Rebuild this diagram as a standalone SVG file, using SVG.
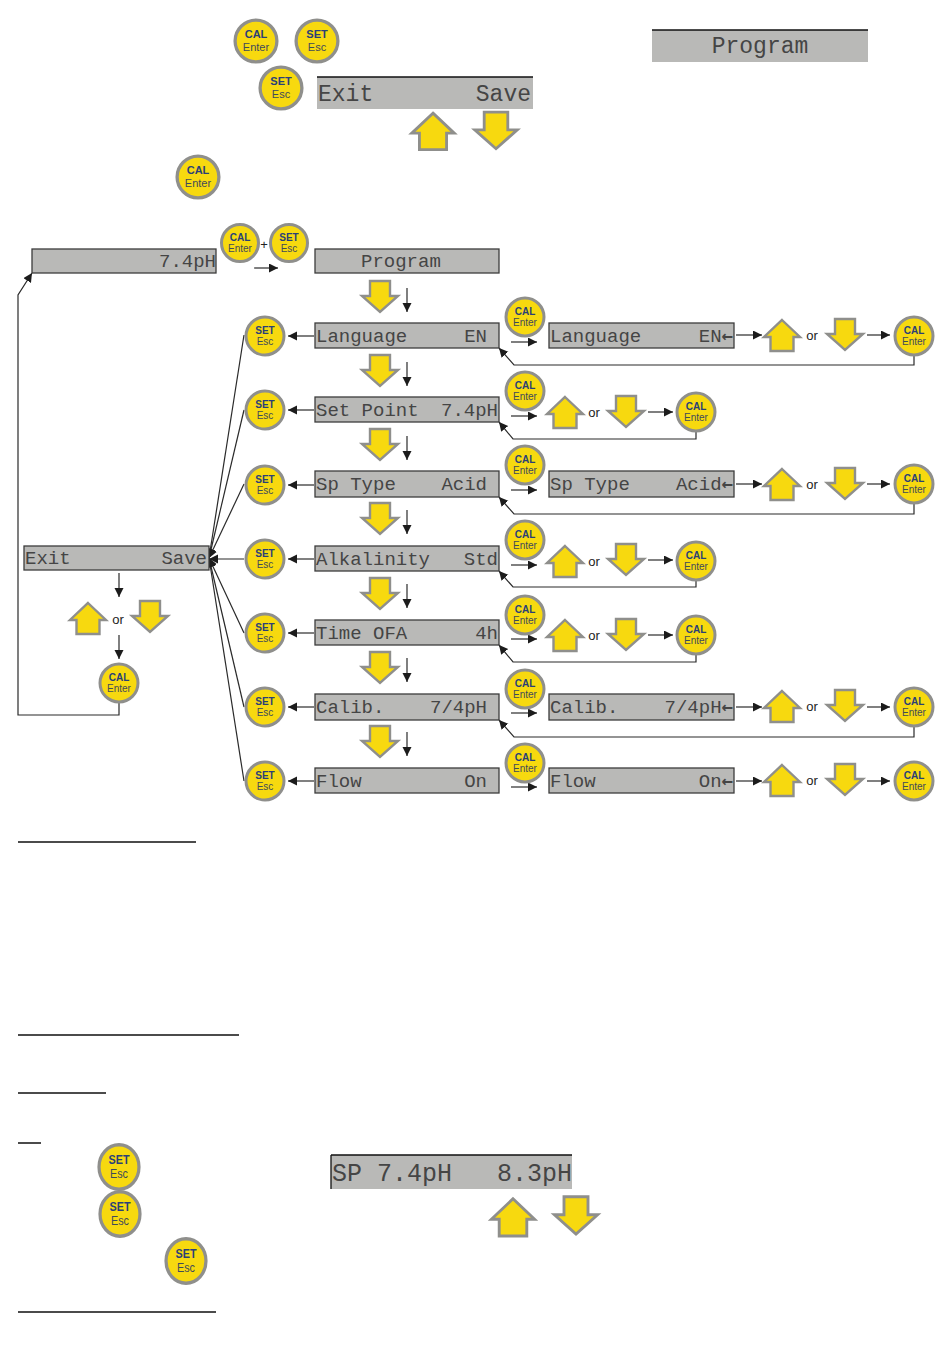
<svg xmlns="http://www.w3.org/2000/svg" xmlns:xlink="http://www.w3.org/1999/xlink" width="950" height="1369" viewBox="0 0 950 1369">
<style>
.cap{fill:#f7d90f;stroke:#8f8f8c;stroke-width:3}
.a{fill:#f7d90f;stroke:#8f8f8c;stroke-width:2.4}
.t1,.t2{font-family:"Liberation Sans",sans-serif;text-anchor:middle;font-size:10px}
.t1{font-weight:700;fill:#2a3f78}
.t2{fill:#3f4a5a}
.d{fill:#b9b9b7;stroke:#3c3c3c;stroke-width:1.3}
.dt{fill:#b9b9b7}
.l{font-family:"Liberation Mono",monospace;font-size:19px;fill:#454545}
.e{text-anchor:end}
.k{font-family:"DejaVu Sans Mono",monospace;font-weight:700}
.or{font-family:"Liberation Sans",sans-serif;font-size:13px;fill:#222;text-anchor:middle}
.c{fill:none;stroke:#2a2a2a;stroke-width:1.2}
.ar{marker-end:url(#h)}
.u{stroke:#111;stroke-width:1.3}
</style>
<defs>
<marker id="h" markerUnits="userSpaceOnUse" markerWidth="10" markerHeight="10" refX="9" refY="4.5" orient="auto"><path d="M0 0L9 4.5L0 9Z" fill="#1c1c1c"/></marker>
<polygon id="up" class="a" points="0,-16 18,1 11.500,1 11.500,15 -11.500,15 -11.500,1 -18,1"/>
<polygon id="dn" class="a" points="-10,-16 10,-16 10,-1 18,-1 0,15 -18,-1 -10,-1"/>
</defs>

<g id="connectors">
<path class="c ar" d="M254 268H278"/>
<path class="c ar" d="M407 288V312"/>
<path class="c ar" d="M407 362V386"/>
<path class="c ar" d="M407 436V460"/>
<path class="c ar" d="M407 510V534"/>
<path class="c ar" d="M407 584V608"/>
<path class="c ar" d="M407 658V682"/>
<path class="c ar" d="M407 732V756"/>
<path class="c ar" d="M314 336H288"/>
<path class="c ar" d="M314 410H288"/>
<path class="c ar" d="M314 485H288"/>
<path class="c ar" d="M314 559H288"/>
<path class="c ar" d="M314 633H288"/>
<path class="c ar" d="M314 707H288"/>
<path class="c ar" d="M314 781H288"/>
<path class="c ar" d="M244 335L209 558"/>
<path class="c ar" d="M244 410L209 558"/>
<path class="c ar" d="M244 484L209 558"/>
<path class="c ar" d="M244 559H209"/>
<path class="c ar" d="M244 633L209 558"/>
<path class="c ar" d="M244 707L209 558"/>
<path class="c ar" d="M244 781L209 558"/>
<path class="c ar" d="M119 573V597"/>
<path class="c ar" d="M119 635V659"/>
<path class="c ar" d="M119 702V715H18V295L32 273"/>
<path class="c ar" d="M511 342H537"/>
<path class="c ar" d="M736 335H762"/>
<path class="c ar" d="M867 335H890"/>
<path class="c ar" d="M914 355V365H514L499 348"/>
<path class="c ar" d="M511 416H537"/>
<path class="c ar" d="M648 412H673"/>
<path class="c ar" d="M696 431V439H513L499 422"/>
<path class="c ar" d="M511 490H537"/>
<path class="c ar" d="M736 484H762"/>
<path class="c ar" d="M867 484H890"/>
<path class="c ar" d="M914 503V514H514L499 497"/>
<path class="c ar" d="M511 565H537"/>
<path class="c ar" d="M648 560H673"/>
<path class="c ar" d="M696 580V587H513L499 571"/>
<path class="c ar" d="M511 639H537"/>
<path class="c ar" d="M648 635H673"/>
<path class="c ar" d="M696 654V662H513L499 645"/>
<path class="c ar" d="M511 713H537"/>
<path class="c ar" d="M736 707H762"/>
<path class="c ar" d="M867 707H890"/>
<path class="c ar" d="M914 726V737H514L499 720"/>
<path class="c ar" d="M511 787H537"/>
<path class="c ar" d="M736 781H762"/>
<path class="c ar" d="M867 781H890"/>
</g>

<g id="top">
<rect class="dt" x="652" y="30" width="216" height="32"/><path class="u" d="M652 30H868"/>
<text class="l" x="760" y="53" style="font-size:23px;text-anchor:middle">Program</text>
<rect class="dt" x="317" y="77" width="216" height="32"/><path class="u" d="M317 77H533"/>
<text class="l" x="318" y="101" style="font-size:23px">Exit</text>
<text class="l e" x="531" y="101" style="font-size:23px">Save</text>
<use href="#up" transform="translate(433,132) scale(1.18)"/>
<use href="#dn" transform="translate(496,131) scale(1.18)"/>
<g id="btn-top1" transform="translate(256,41) scale(1.1)"><circle class="cap" r="19"/><text class="t1" y="-2.500">CAL</text><text class="t2" y="9">Enter</text></g>
<g id="btn-top2" transform="translate(317,41) scale(1.1)"><circle class="cap" r="19"/><text class="t1" y="-2.500">SET</text><text class="t2" y="9">Esc</text></g>
<g id="btn-top3" transform="translate(281,88) scale(1.1)"><circle class="cap" r="19"/><text class="t1" y="-2.500">SET</text><text class="t2" y="9">Esc</text></g>
<g id="btn-top4" transform="translate(198,177) scale(1.1)"><circle class="cap" r="19"/><text class="t1" y="-2.500">CAL</text><text class="t2" y="9">Enter</text></g>
</g>

<g id="home"><rect class="d" x="32" y="249" width="184" height="24"/><text class="l e" x="216" y="267">7.4pH</text></g>
<g id="btn-cal" transform="translate(240,243)"><circle class="cap" r="18.500"/><text class="t1" y="-2.500">CAL</text><text class="t2" y="9">Enter</text></g>
<text class="or" x="264" y="249">+</text>
<g id="btn-set" transform="translate(289,243)"><circle class="cap" r="18.500"/><text class="t1" y="-2.500">SET</text><text class="t2" y="9">Esc</text></g>
<g id="program"><rect class="d" x="315" y="249" width="184" height="24"/><text class="l" x="361" y="267">Program</text></g>

<g id="exit-save"><rect class="d" x="24" y="546" width="185" height="24"/><text class="l" x="25" y="564">Exit</text><text class="l e" x="207" y="564">Save</text></g>
<use href="#up" transform="translate(88,619)"/>
<text class="or" x="118" y="624">or</text>
<use href="#dn" transform="translate(150,617)"/>
<g id="btn-exit" transform="translate(119,683)"><circle class="cap" r="19"/><text class="t1" y="-2.500">CAL</text><text class="t2" y="9">Enter</text></g>

<g id="row-language">
<rect class="d" x="315" y="323" width="184" height="25"/><text class="l" x="316" y="342">Language</text><text class="l e" x="487" y="342">EN</text>
<g transform="translate(265,336)"><circle class="cap" r="19"/><text class="t1" y="-2.500">SET</text><text class="t2" y="9">Esc</text></g>
<g transform="translate(525,317)"><circle class="cap" r="19"/><text class="t1" y="-2.500">CAL</text><text class="t2" y="9">Enter</text></g>
<use href="#dn" transform="translate(380,297)"/>
<rect class="d" x="549" y="323" width="185" height="25"/><text class="l" x="550" y="342">Language</text><text class="l e" x="733" y="342">EN<tspan class="k">←</tspan></text>
<use href="#up" transform="translate(782,336)"/><text class="or" x="812" y="340">or</text><use href="#dn" transform="translate(845,335)"/>
<g transform="translate(914,336)"><circle class="cap" r="19"/><text class="t1" y="-2.500">CAL</text><text class="t2" y="9">Enter</text></g>
</g>

<g id="row-setpoint">
<rect class="d" x="315" y="397" width="184" height="25"/><text class="l" x="316" y="416">Set Point</text><text class="l e" x="498" y="416">7.4pH</text>
<g transform="translate(265,410)"><circle class="cap" r="19"/><text class="t1" y="-2.500">SET</text><text class="t2" y="9">Esc</text></g>
<g transform="translate(525,391)"><circle class="cap" r="19"/><text class="t1" y="-2.500">CAL</text><text class="t2" y="9">Enter</text></g>
<use href="#dn" transform="translate(380,371)"/>
<use href="#up" transform="translate(565,413)"/><text class="or" x="594" y="417">or</text><use href="#dn" transform="translate(626,412)"/>
<g transform="translate(696,412)"><circle class="cap" r="19"/><text class="t1" y="-2.500">CAL</text><text class="t2" y="9">Enter</text></g>
</g>

<g id="row-sptype">
<rect class="d" x="315" y="471" width="184" height="26"/><text class="l" x="316" y="490">Sp Type</text><text class="l e" x="487" y="490">Acid</text>
<g transform="translate(265,485)"><circle class="cap" r="19"/><text class="t1" y="-2.500">SET</text><text class="t2" y="9">Esc</text></g>
<g transform="translate(525,465)"><circle class="cap" r="19"/><text class="t1" y="-2.500">CAL</text><text class="t2" y="9">Enter</text></g>
<use href="#dn" transform="translate(380,445)"/>
<rect class="d" x="549" y="471" width="185" height="26"/><text class="l" x="550" y="490">Sp Type</text><text class="l e" x="733" y="490">Acid<tspan class="k">←</tspan></text>
<use href="#up" transform="translate(782,485)"/><text class="or" x="812" y="489">or</text><use href="#dn" transform="translate(845,484)"/>
<g transform="translate(914,484)"><circle class="cap" r="19"/><text class="t1" y="-2.500">CAL</text><text class="t2" y="9">Enter</text></g>
</g>

<g id="row-alkalinity">
<rect class="d" x="315" y="546" width="184" height="25"/><text class="l" x="316" y="565">Alkalinity</text><text class="l e" x="498" y="565">Std</text>
<g transform="translate(265,559)"><circle class="cap" r="19"/><text class="t1" y="-2.500">SET</text><text class="t2" y="9">Esc</text></g>
<g transform="translate(525,540)"><circle class="cap" r="19"/><text class="t1" y="-2.500">CAL</text><text class="t2" y="9">Enter</text></g>
<use href="#dn" transform="translate(380,519)"/>
<use href="#up" transform="translate(565,562)"/><text class="or" x="594" y="566">or</text><use href="#dn" transform="translate(626,560)"/>
<g transform="translate(696,561)"><circle class="cap" r="19"/><text class="t1" y="-2.500">CAL</text><text class="t2" y="9">Enter</text></g>
</g>

<g id="row-time">
<rect class="d" x="315" y="620" width="184" height="25"/><text class="l" x="316" y="639">Time OFA</text><text class="l e" x="498" y="639">4h</text>
<g transform="translate(265,633)"><circle class="cap" r="19"/><text class="t1" y="-2.500">SET</text><text class="t2" y="9">Esc</text></g>
<g transform="translate(525,615)"><circle class="cap" r="19"/><text class="t1" y="-2.500">CAL</text><text class="t2" y="9">Enter</text></g>
<use href="#dn" transform="translate(380,594)"/>
<use href="#up" transform="translate(565,636)"/><text class="or" x="594" y="640">or</text><use href="#dn" transform="translate(626,635)"/>
<g transform="translate(696,635)"><circle class="cap" r="19"/><text class="t1" y="-2.500">CAL</text><text class="t2" y="9">Enter</text></g>
</g>

<g id="row-calib">
<rect class="d" x="315" y="694" width="184" height="26"/><text class="l" x="316" y="713">Calib.</text><text class="l e" x="487" y="713">7/4pH</text>
<g transform="translate(265,707)"><circle class="cap" r="19"/><text class="t1" y="-2.500">SET</text><text class="t2" y="9">Esc</text></g>
<g transform="translate(525,689)"><circle class="cap" r="19"/><text class="t1" y="-2.500">CAL</text><text class="t2" y="9">Enter</text></g>
<use href="#dn" transform="translate(380,668)"/>
<rect class="d" x="549" y="694" width="185" height="26"/><text class="l" x="550" y="713">Calib.</text><text class="l e" x="733" y="713">7/4pH<tspan class="k">←</tspan></text>
<use href="#up" transform="translate(782,707)"/><text class="or" x="812" y="711">or</text><use href="#dn" transform="translate(845,706)"/>
<g transform="translate(914,707)"><circle class="cap" r="19"/><text class="t1" y="-2.500">CAL</text><text class="t2" y="9">Enter</text></g>
</g>

<g id="row-flow">
<rect class="d" x="315" y="768" width="184" height="25"/><text class="l" x="316" y="787">Flow</text><text class="l e" x="487" y="787">On</text>
<g transform="translate(265,781)"><circle class="cap" r="19"/><text class="t1" y="-2.500">SET</text><text class="t2" y="9">Esc</text></g>
<g transform="translate(525,763)"><circle class="cap" r="19"/><text class="t1" y="-2.500">CAL</text><text class="t2" y="9">Enter</text></g>
<use href="#dn" transform="translate(380,742)"/>
<rect class="d" x="549" y="768" width="185" height="25"/><text class="l" x="550" y="787">Flow</text><text class="l e" x="733" y="787">On<tspan class="k">←</tspan></text>
<use href="#up" transform="translate(782,781)"/><text class="or" x="812" y="785">or</text><use href="#dn" transform="translate(845,780)"/>
<g transform="translate(914,781)"><circle class="cap" r="19"/><text class="t1" y="-2.500">CAL</text><text class="t2" y="9">Enter</text></g>
</g>

<g id="underlines">
<path class="u" d="M18 842H196M18 1035H239M18 1093H106M18 1143H41M18 1312H216"/>
</g>

<g id="bottom">
<g transform="translate(119,1167) scale(1.08,1.2)"><circle class="cap" r="18.500"/><text class="t1" y="-2.500">SET</text><text class="t2" y="9">Esc</text></g>
<g transform="translate(120,1214) scale(1.08,1.2)"><circle class="cap" r="18.500"/><text class="t1" y="-2.500">SET</text><text class="t2" y="9">Esc</text></g>
<g transform="translate(186,1261) scale(1.08,1.2)"><circle class="cap" r="18.500"/><text class="t1" y="-2.500">SET</text><text class="t2" y="9">Esc</text></g>
<rect class="dt" x="331" y="1155" width="241" height="34"/><path class="u" d="M331 1155H572M331 1155V1189"/>
<text class="l" x="332" y="1181" style="font-size:25px">SP 7.4pH</text>
<text class="l e" x="572" y="1181" style="font-size:25px">8.3pH</text>
<use href="#up" transform="translate(513,1218) scale(1.2)"/>
<use href="#dn" transform="translate(576,1216) scale(1.2)"/>
</g>
</svg>
